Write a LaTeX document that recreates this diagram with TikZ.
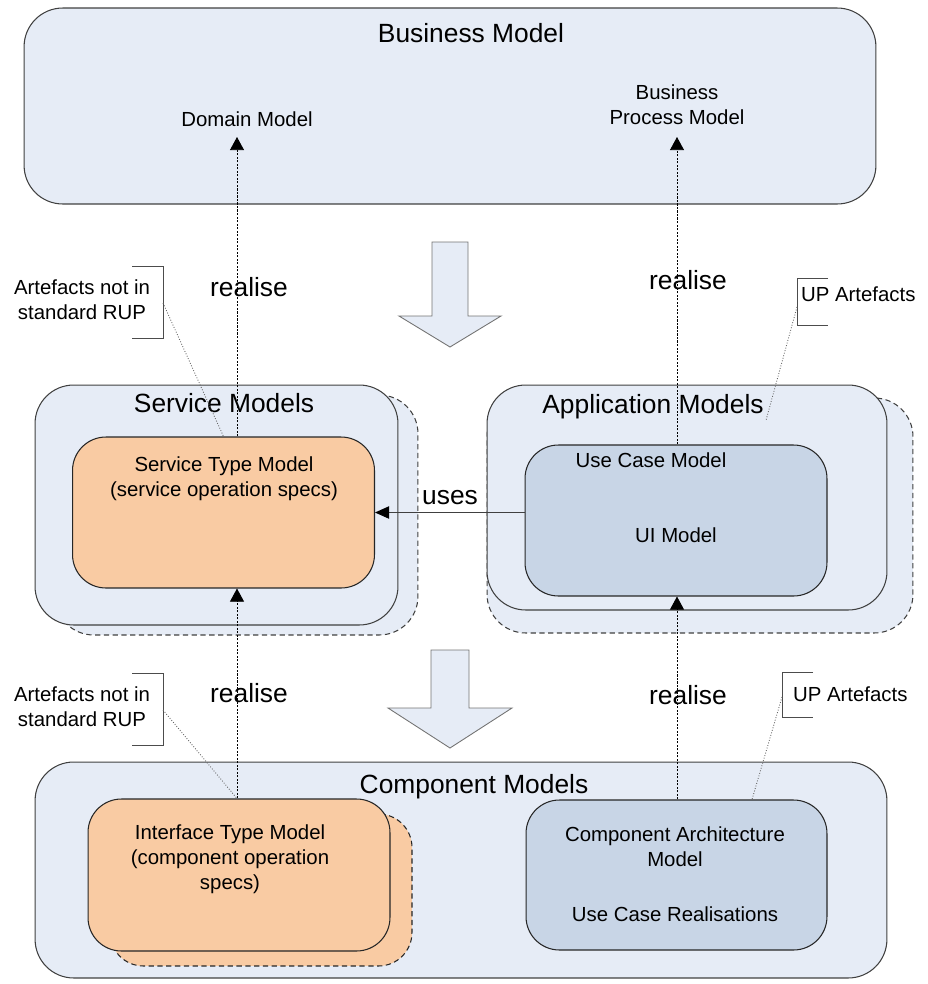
\documentclass[tikz,border=0pt]{standalone}
\usepackage{fontspec}
\setmainfont{Liberation Sans}
\usetikzlibrary{arrows.meta,calc}

\definecolor{modelblue}{HTML}{E6ECF6}
\definecolor{specpeach}{HTML}{F9CBA3}
\definecolor{umlgrey}{HTML}{C8D5E6}
\definecolor{edgegrey}{HTML}{404040}

\begin{document}
\begin{tikzpicture}[x=0.02cm, y=-0.02cm, font=\fontsize{11.6}{14.2}\selectfont,
  modelbox/.style={draw=edgegrey, fill=modelblue, line width=0.6pt, rounded corners=22pt, inner sep=0pt},
  modelshadow/.style={modelbox, dash pattern=on 3pt off 2pt},
  spec/.style={draw=black!85, fill=specpeach, line width=0.6pt, rounded corners=19pt, inner sep=0pt,
               minimum width=6.04cm, minimum height=3.02cm},
  specshadow/.style={spec, dash pattern=on 3pt off 2pt},
  uml/.style={spec, fill=umlgrey},
  heading/.style={font=\fontsize{15}{18}\selectfont, inner sep=1pt},
  txt/.style={align=center, inner sep=1pt},
  realise/.style={draw=black, line width=0.5pt, dash pattern=on 1.2pt off 0.8pt,
                  -{Triangle[length=7.5pt, width=8pt]}},
  uses/.style={draw=edgegrey, line width=0.6pt, -{Triangle[length=8pt, width=7pt, color=black]}},
  bracket/.style={draw=black!70, line width=0.5pt},
  tagline/.style={draw=black!60, line width=0.5pt, dash pattern=on 0.5pt off 1pt},
  blockarrow/.style={draw=black!55, fill=modelblue, line width=0.5pt},
]
\useasboundingbox (0,0) rectangle (927,984);

% business layer
\node[modelbox, minimum width=17.04cm, minimum height=3.92cm] (bm) at (450,106) {};
\node[heading] (bml) at (471,33) {Business Model};
\node[txt] (dm)  at (247,119) {Domain Model};
\node[txt] (bpm) at (677,105) {Business\\Process Model};

% refinement steps between the layers
\draw[blockarrow] (432,242) -- (468,242) -- (468,316) -- (501,316) -- (450,347) -- (399,316) -- (432,316) -- cycle;
\draw[blockarrow] (431,650) -- (469,650) -- (469,708) -- (512,708) -- (450,748) -- (388,708) -- (431,708) -- cycle;

% service models
\node[modelshadow, minimum width=7.26cm, minimum height=4.8cm] (smshadow) at (236.5,515) {};
\node[modelbox, minimum width=7.26cm, minimum height=4.8cm] (sm) at (216.5,505) {};
\node[heading] (sml) at (224,403) {Service Models};
\node[spec] (stm) at (223.5,512.5) {};
\node[txt] (stml) at (224,479) {Service Type Model\\(service operation specs)};

% application models
\node[modelshadow, minimum width=8.52cm, minimum height=4.7cm] (amshadow) at (700,515.5) {};
\node[modelbox, minimum width=8cm, minimum height=4.5cm] (am) at (687,497.5) {};
\node[heading] (aml) at (653,407) {Application Models};
\node[uml] (ucm) at (676,520.5) {};
\node[txt] (ucml) at (651,460) {Use Case Model};
\node[txt] (uil)  at (676,535) {UI Model};

% component models
\node[modelbox, minimum width=17.04cm, minimum height=4.32cm] (cm) at (461,870) {};
\node[heading] (cml) at (474,787) {Component Models};
\node[specshadow, minimum height=3.04cm] (ifcshadow) at (261,890) {};
\node[spec, minimum height=3.04cm] (ifc) at (239,875) {};
\node[txt] (ifcl) at (230,859) {Interface Type Model\\(component operation\\specs)};
\node[uml, minimum width=6.02cm, minimum height=3cm] (cam) at (676.5,875) {};
\node[txt] (caml) at (675,874) {Component Architecture\\Model\\[17pt]Use Case Realisations};

% realisation and usage
\coordinate (dmIn)  at (237,137);
\coordinate (bpmIn) at (677,137);
\draw[realise] (stm.north -| dmIn) -- (dmIn);
\draw[realise] (ucm.north -| bpmIn) -- (bpmIn);
\draw[realise] (ifc.north -| dmIn) -- (stm.south -| dmIn);
\draw[realise] (cam.north -| bpmIn) -- (ucm.south -| bpmIn);
\draw[uses] (ucm.west |- stm.east) -- (stm.east);

\node[heading] (r1) at (249,287) {realise};
\node[heading] (r2) at (688,280) {realise};
\node[heading] (r3) at (249,693) {realise};
\node[heading] (r4) at (688,695) {realise};
\node[heading] (usesl) at (450,498) {uses};

% annotations
\node[txt] (nrup1) at (82,300) {Artefacts not in\\standard RUP};
\draw[bracket] (132,266) -| (163,338) -- (132,338);
\coordinate (nrup1tip) at (163,303);
\draw[tagline] (nrup1tip) -- (stm.north);

\node[txt] (nrup2) at (82,707) {Artefacts not in\\standard RUP};
\draw[bracket] (132,673) -| (163,745) -- (132,745);
\coordinate (nrup2tip) at (163,710);
\draw[tagline] (nrup2tip) -- (ifc.north -| dmIn);

\node[txt, anchor=west] (up1) at (799,294) {UP Artefacts};
\draw[bracket] (828,278) -| (797,325) -- (828,325);
\coordinate (up1tip) at (797,307);
\draw[tagline] (up1tip) -- (aml.south east);

\node[txt, anchor=west] (up2) at (791,694) {UP Artefacts};
\draw[bracket] (813,672) -| (782,717) -- (813,717);
\coordinate (up2tip) at (782,697);
\draw[tagline] (up2tip) -- ($(cam.north)!0.5!(cam.north east)$);
\end{tikzpicture}
\end{document}
